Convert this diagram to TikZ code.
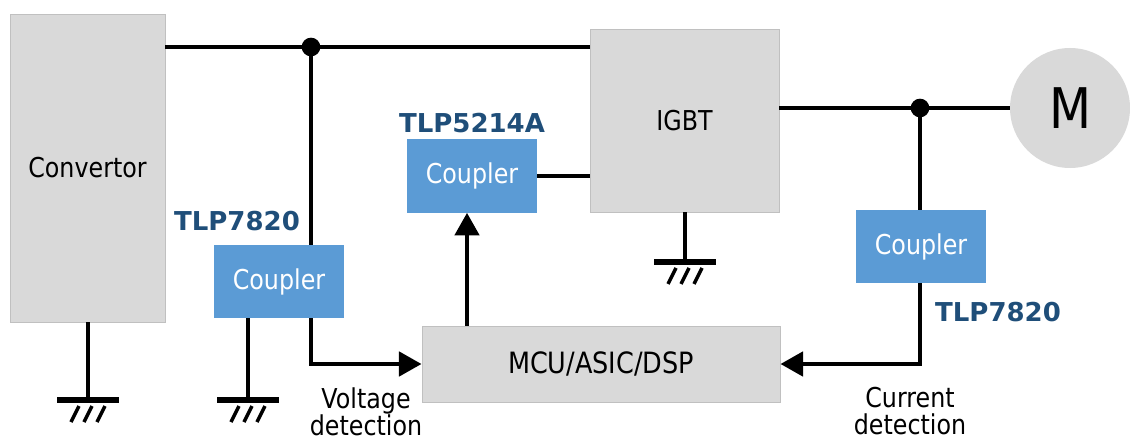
\documentclass[tikz,border=0pt]{standalone}
\usepackage{fontspec}
\setmainfont{DejaVu Sans}[FakeStretch=0.87]
\newfontfamily\partfont{DejaVu Sans}
\usetikzlibrary{arrows.meta, positioning}
\definecolor{blockgray}{HTML}{D9D9D9}
\definecolor{blockedge}{HTML}{C0C0C0}
\definecolor{couplerblue}{HTML}{5B9BD5}
\definecolor{partblue}{HTML}{1F4E79}
\tikzset{
x=0.75pt, y=-0.75pt, % one unit is one pixel of the reference
wire/.style={line width=3.6pt}, % the black connections
>={Triangle[length=17pt, width=18pt]}, % big filled arrow heads
block/.style={draw=blockedge, fill=blockgray, line width=0.6pt, font=\fontsize{20.5}{23}\selectfont}, % the gray blocks
coupler/.style={fill=couplerblue, text=white, minimum width=97.5pt, minimum height=54.75pt, font=\fontsize{20.5}{23}\selectfont}, % the blue couplers
partname/.style={text=partblue, font=\partfont\fontsize{19.5}{22}\bfseries}, % the part numbers
caption/.style={align=center, font=\fontsize{20.5}{20}\selectfont}, % detection texts
earth/.pic={ % ground symbol, drawn below its anchor
  \draw[line width=4.5pt] (-31,0) -- (31,0);
  \foreach \i in {0,1,2}
    \draw[line width=2.6pt] (-17+13*\i,22) -- (-9+13*\i,6);
},
}
\begin{document}
\begin{tikzpicture}
    \useasboundingbox (0,0) rectangle (1130,442);
    % blocks
    \node[block, minimum width=116.25pt, minimum height=231pt] (conv) at (87.5,168) {Convertor};
    \node[block, minimum width=141.75pt, minimum height=137.25pt] (igbt) at (684.5,120.5) {IGBT};
    \node[block, minimum width=268.5pt, minimum height=57pt, font=\fontsize{22}{24}\selectfont] (mcu) at (601,364) {MCU/ASIC/DSP};
    \node[block, draw=none, circle, minimum size=90pt, font=\fontsize{42}{44}\selectfont] (motor) at (1070,108) {M};
    \node[coupler] (cplv) at (279,281.5) {Coupler};
    \node[coupler] (cplg) at (472,176) {Coupler};
    \node[coupler] (cpli) at (921,246.5) {Coupler};
    % part numbers and captions
    \node[partname] (tlpv) at (237,221) {TLP7820};
    \node[partname, above=1pt of cplg] (tlpg) {TLP5214A};
    \node[partname] (tlpi) at (998,312) {TLP7820};
    \node[caption] (vdet) at (366,412) {Voltage\\detection};
    \node[caption] (idet) at (910,411) {Current\\detection};
    % junctions
    \coordinate (jv) at (311,47);
    \coordinate (ji) at (920,108);
    \fill (jv) circle (7pt);
    \fill (ji) circle (7pt);
    % wiring
    \draw[wire] (conv.east |- jv) -- (jv) -- (jv -| igbt.west);
    \draw[wire] (jv) -- (jv |- cplv.north);
    \draw[wire, ->] (jv |- cplv.south) |- (mcu.west);
    \draw[wire] (cplv.south -| 248,0) -- (248,400) pic{earth};
    \draw[wire] (conv.south -| 88,0) -- (88,400) pic{earth};
    \draw[wire, ->] (467,0 |- mcu.north) -- (467,0 |- cplg.south);
    \draw[wire] (cplg.east) -- (cplg.east -| igbt.west);
    \draw[wire] (igbt.south -| 685,0) -- (685,262) pic{earth};
    \draw[wire] (igbt.east |- ji) -- (ji) -- (motor.west);
    \draw[wire] (ji) -- (ji |- cpli.north);
    \draw[wire, ->] (ji |- cpli.south) |- (mcu.east);
\end{tikzpicture}
\end{document}
